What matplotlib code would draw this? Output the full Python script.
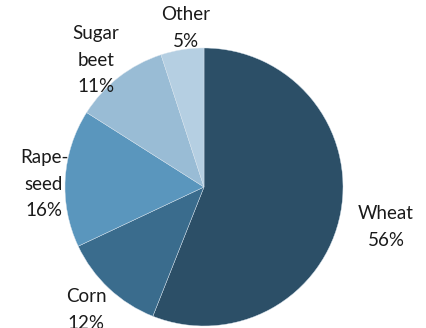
import matplotlib
matplotlib.use("Agg")
import matplotlib.pyplot as plt

categories = ["Wheat", "Corn", "Rape-\nseed", "Sugar\nbeet", "Other"]
values = [56, 12, 16, 11, 5]
colors = ["#2c4f67", "#3a6c8d", "#5a96bd", "#99bcd5", "#b5cfe2"]

W, H = 427, 328
cx, cy, r = 204, 187, 139

fig = plt.figure(figsize=(W / 100, H / 100), dpi=100)
ax = fig.add_axes([0, 0, 1, 1])
ax.pie(values, colors=colors, startangle=90, counterclock=False,
       radius=1, center=(0, 0),
       wedgeprops=dict(edgecolor="#d8e4ee", linewidth=0.3))
ax.set_xlim(-cx / r, (W - cx) / r)
ax.set_ylim((cy - H) / r, cy / r)
ax.set_aspect("equal")
ax.axis("off")

label_px = [(386, 227), (86, 310), (44, 184), (96, 60), (186, 28)]
for cat, v, (px, py) in zip(categories, values, label_px):
    ax.text((px - cx) / r, (cy - py) / r, f"{cat}\n{v}%",
            ha="center", va="center", fontsize=13.5, family="Lato",
            color="#1a1a1a", linespacing=1.65)

fig.savefig("out.png", dpi=100)
